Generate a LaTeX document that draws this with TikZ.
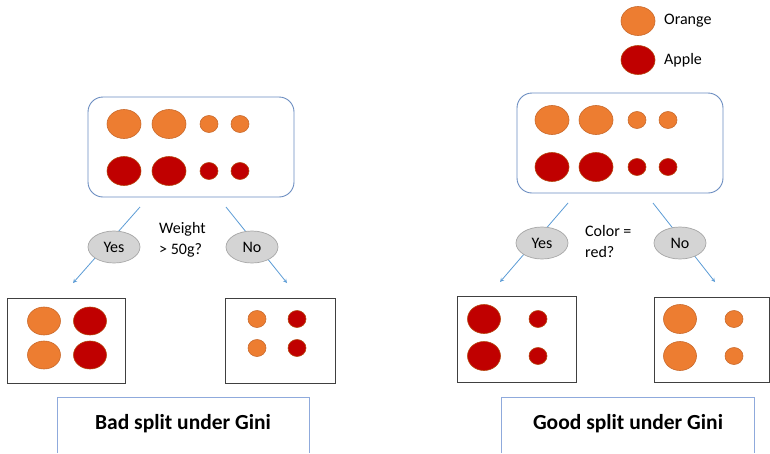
\documentclass[tikz,border=0pt]{standalone}
\usepackage{fontspec}
\setmainfont{Carlito}
\usetikzlibrary{shapes.geometric}

\definecolor{orangefill}{HTML}{ED7D31}
\definecolor{orangeline}{HTML}{C96A2C}
\definecolor{applefill}{HTML}{C00000}
\definecolor{appleline}{HTML}{B5460F}
\definecolor{rootline}{HTML}{6A8CC0}
\definecolor{labelline}{HTML}{8FAADC}
\definecolor{arrowline}{HTML}{5B9BD5}

\tikzset{
  fruit/.style={ellipse, inner sep=0pt, line width=0.6pt},
  orangefruit/.style={fruit, fill=orangefill, draw=orangeline},
  applefruit/.style={fruit, fill=applefill, draw=appleline},
  big/.style={minimum width=34pt, minimum height=29pt},
  small/.style={minimum width=18pt, minimum height=17pt},
  rootbox/.style={draw=rootline, line width=0.9pt, rounded corners=15pt,
    minimum width=206pt, minimum height=100pt},
  leafbox/.style={draw=black!75, line width=0.9pt},
  answer/.style={ellipse, fill=black!17, draw=black!35, line width=0.7pt,
    minimum width=52pt, minimum height=32pt, inner sep=0pt,
    font=\fontsize{16}{18}\selectfont},
  question/.style={anchor=west, align=left, inner sep=0pt,
    font=\fontsize{16}{21}\selectfont},
  legendtext/.style={anchor=west, inner sep=0pt, font=\fontsize{16}{18}\selectfont},
  branch/.style={draw=arrowline, line width=0.8pt, ->, >=stealth},
  verdict/.style={font=\fontsize{21.5}{24}\selectfont\bfseries}
}

\begin{document}
\begin{tikzpicture}[x=1pt,y=-1pt]
  \useasboundingbox (0,0) rectangle (770,453);

  % legend
  \node[orangefruit, big] (legorange) at (638,21) {};
  \node[applefruit, big] (legapple) at (638,60) {};
  \node[legendtext] (legorangetext) at (664,21) {Orange};
  \node[legendtext] (legappletext) at (664,60) {Apple};

  %pic1 (weight)
  \node[rootbox] (lroot) at (191,147) {};
  \foreach \x/\s [count=\i] in {124/big,169/big,209/small,240/small} {
    \node[orangefruit, \s] (lrooto\i) at (\x,124) {};
    \node[applefruit, \s] (lroota\i) at (\x,171) {};
  }
  \coordinate (lyesfrom) at (140,207);
  \coordinate (lyesto) at (73,283);
  \coordinate (lnofrom) at (226,207);
  \coordinate (lnoto) at (287,283);
  \draw[branch] (lyesfrom) -- (lyesto);
  \draw[branch] (lnofrom) -- (lnoto);
  \node[answer] (lyes) at (114,247) {Yes};
  \node[answer] (lno) at (252,247) {No};
  \node[question] (lquestion) at (159,240) {Weight\\> 50g?};

  % leaves
  \node[leafbox, minimum width=118pt, minimum height=85pt] (lleafyes) at (66,340.5) {};
  \foreach \y [count=\i] in {321,355} {
    \node[orangefruit, minimum width=33pt, minimum height=28pt] (lyeso\i) at (44,\y) {};
    \node[applefruit, minimum width=33pt, minimum height=28pt] (lyesa\i) at (90,\y) {};
  }
  \node[leafbox, minimum width=110pt, minimum height=85pt] (lleafno) at (280,340.5) {};
  \foreach \y [count=\i] in {319,348} {
    \node[orangefruit, small] (lnoo\i) at (257,\y) {};
    \node[applefruit, small] (lnoa\i) at (297,\y) {};
  }

  \draw[labelline, line width=0.9pt] (57,453) |- (309,397) -- (309,453);
  \node[verdict] (lverdict) at (183,424) {Bad split under Gini};

  % pic2 (colour)
  \node[rootbox] (rroot) at (620,143) {};
  \foreach \x/\s [count=\i] in {552/big,596/big,637/small,668/small} {
    \node[orangefruit, \s] (rrooto\i) at (\x,120) {};
    \node[applefruit, \s] (rroota\i) at (\x,167) {};
  }
  \coordinate (ryesfrom) at (568,203);
  \coordinate (ryesto) at (500,282);
  \coordinate (rnofrom) at (653,203);
  \coordinate (rnoto) at (715,282);
  \draw[branch] (ryesfrom) -- (ryesto);
  \draw[branch] (rnofrom) -- (rnoto);
  \node[answer] (ryes) at (542,243) {Yes};
  \node[answer] (rno) at (680,243) {No};
  \node[question] (rquestion) at (585,241) {Color =\\red?};

  % leaves
  \node[leafbox, minimum width=119pt, minimum height=86pt] (rleafyes) at (516.5,339) {};
  \foreach \y [count=\i] in {319,356} {
    \node[applefruit, minimum width=33pt, minimum height=29pt] (ryesa\i) at (484,\y) {};
    \node[applefruit, small] (ryesb\i) at (538,\y) {};
  }
  \node[leafbox, minimum width=115pt, minimum height=85pt] (rleafno) at (711.5,339.5) {};
  \foreach \y [count=\i] in {319,356} {
    \node[orangefruit, minimum width=33pt, minimum height=29pt] (rnoo\i) at (680,\y) {};
    \node[orangefruit, small] (rnob\i) at (734,\y) {};
  }

  \draw[labelline, line width=0.9pt] (501,453) |- (754,397) -- (754,453);
  \node[verdict] (rverdict) at (628,424) {Good split under Gini};
\end{tikzpicture}
\end{document}
